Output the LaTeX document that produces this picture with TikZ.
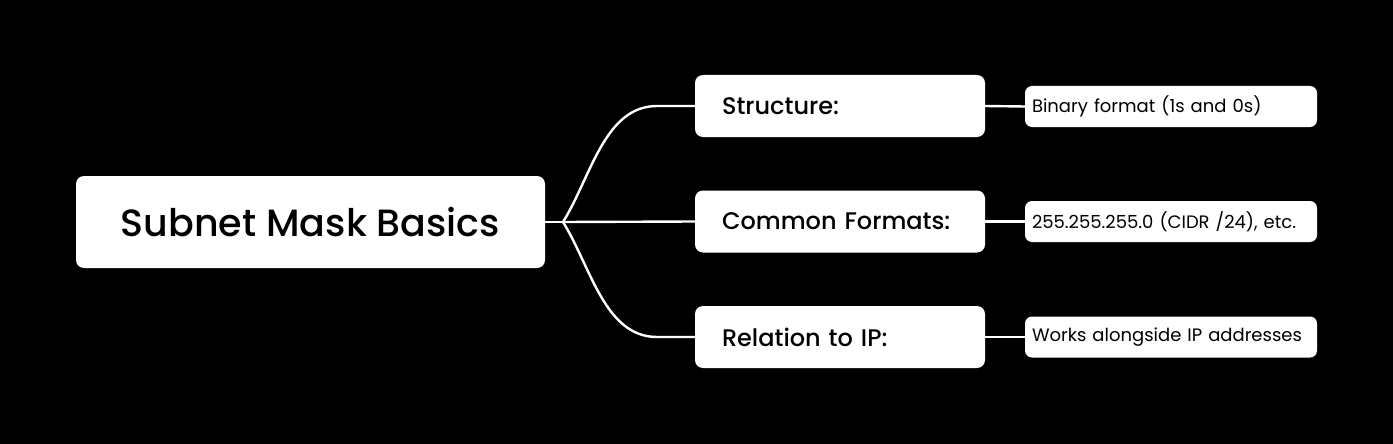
\documentclass[tikz,border=0pt]{standalone}
\usepackage{fontspec}
\setmainfont{Poppins}
\newfontfamily\pmed{Poppins}[UprightFont=* Medium]
\begin{document}
\begin{tikzpicture}[x=1pt,y=-1pt,
  rootbox/.style={fill=white,rounded corners=8pt,minimum width=469pt,minimum height=92pt,inner sep=0pt,font=\pmed\fontsize{38}{42}\selectfont,text=black},
  branchbox/.style={fill=white,rounded corners=8pt,minimum width=290pt,minimum height=62pt,inner sep=0pt,text width=236pt,align=left,font=\pmed\fontsize{24}{28}\selectfont,text=black},
  leafbox/.style={fill=white,rounded corners=7pt,minimum width=292pt,minimum height=41pt,inner sep=0pt,text width=278pt,align=left,font=\fontsize{18}{21}\selectfont,text=black},
  link/.style={draw=white,line width=2.4pt}]
\fill[black] (0,0) rectangle (1393,444);
\useasboundingbox (0,0) rectangle (1393,444);
\node[rootbox] (root) at (310.5,222) {Subnet Mask Basics};
\coordinate (hub) at (563,222);
\node[branchbox] (b1) at (840,106) {Structure:};
\node[branchbox] (b2) at (840,221.5) {Common Formats:};
\node[branchbox] (b3) at (840,337) {Relation to IP:};
\node[leafbox] (l1) at (1171,106.5) {Binary format (1s and 0s)};
\node[leafbox] (l2) at (1171,221.5) {255.255.255.0 (CIDR /24), etc.};
\node[leafbox] (l3) at (1171,337) {Works alongside IP addresses};
\coordinate (c1) at (657,106);
\coordinate (c3) at (657,337);
\draw[link] (root.east) -- (hub);
\draw[link] (hub) to[out=58,in=180,looseness=0.9] (c1) -- (b1.west);
\draw[link] (hub) -- (b2.west);
\draw[link] (hub) to[out=-58,in=180,looseness=0.9] (c3) -- (b3.west);
\draw[link] (b1.east) -- (l1.west);
\draw[link] (b2.east) -- (l2.west);
\draw[link] (b3.east) -- (l3.west);
\end{tikzpicture}
\end{document}
